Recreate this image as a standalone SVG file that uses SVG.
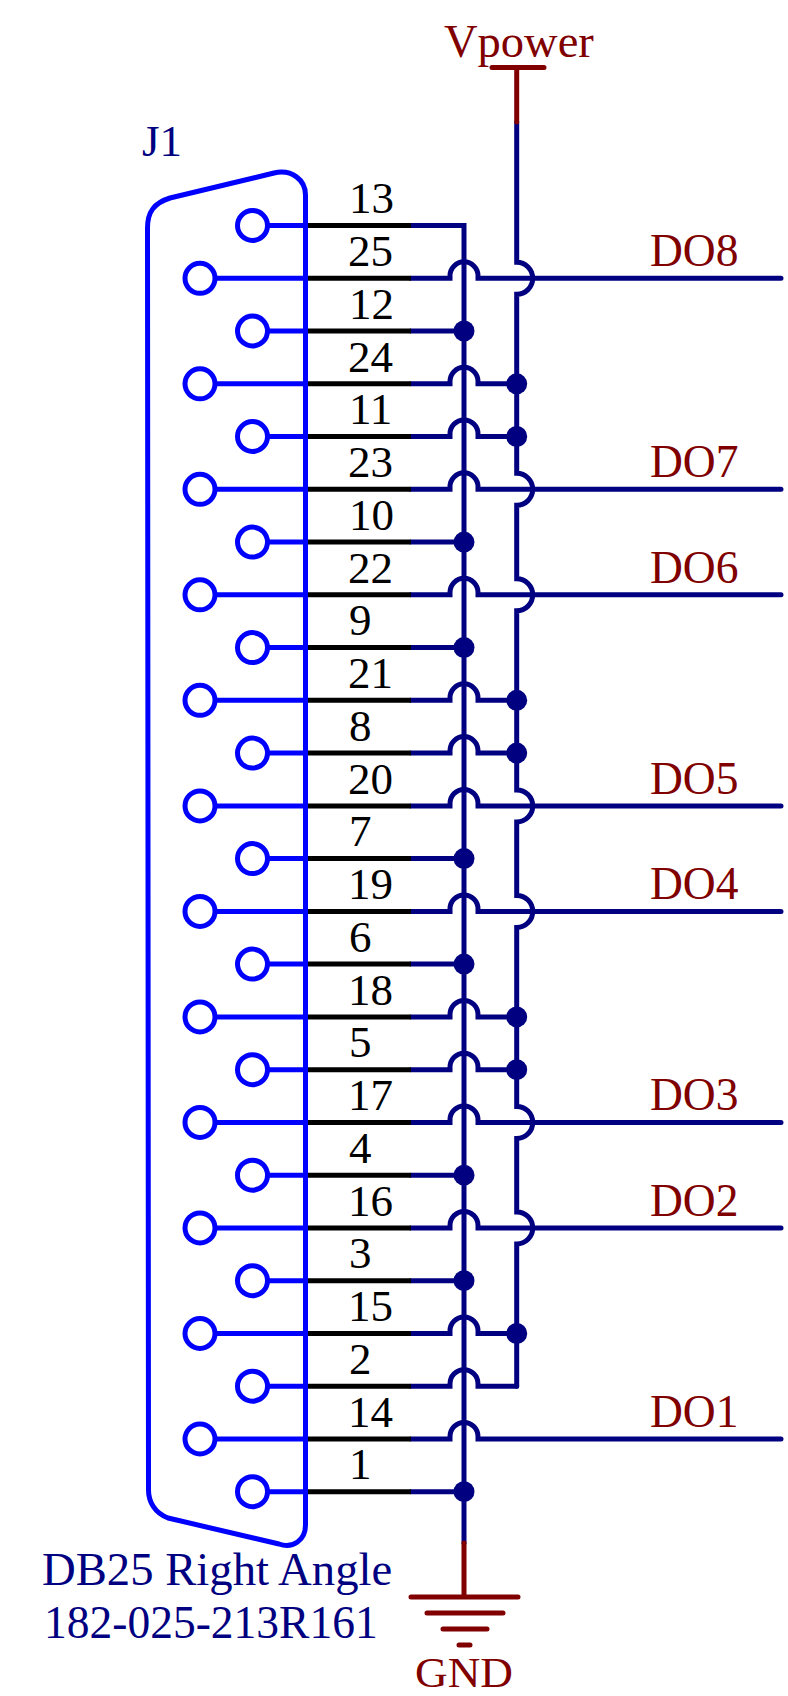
<svg xmlns="http://www.w3.org/2000/svg" width="788" height="1696" viewBox="0 0 788 1696">
<style>
text{font-family:"Liberation Serif","Times New Roman",serif;font-size:45px}
.n{fill:#000}.nv{fill:#000080}.r{fill:#800000}
.b,.k,.w,.p{fill:none;stroke-width:5}
.b{stroke:#0000ff}.k{stroke:#000}.w{stroke:#000080;stroke-linecap:round;stroke-linejoin:miter}
.p{stroke:#800000;stroke-linecap:round}
.h{fill:#fff;stroke:#0000ff;stroke-width:5}
.d{fill:#000080}
</style>
<rect width="788" height="1696" fill="#fff"/>
<g id="connectors">
<path class="w" d="M411 225.500H464V1543"/>
<path class="w" d="M516.700 122V262.300A16 16 0 0 1 516.700 294.300V473.300A16 16 0 0 1 516.700 505.300V578.800A16 16 0 0 1 516.700 610.800V789.900A16 16 0 0 1 516.700 821.900V895.400A16 16 0 0 1 516.700 927.400V1106.400A16 16 0 0 1 516.700 1138.400V1211.900A16 16 0 0 1 516.700 1243.900V1386.200"/>
<path class="w" d="M411 278.300H450V275.800A14 14 0 0 1 478 275.800V278.300H781"/>
<path class="w" d="M411 331H464"/>
<path class="w" d="M411 383.800H450V381.300A14 14 0 0 1 478 381.300V383.800H516.700"/>
<path class="w" d="M411 436.500H450V434A14 14 0 0 1 478 434V436.500H516.700"/>
<path class="w" d="M411 489.300H450V486.800A14 14 0 0 1 478 486.800V489.300H781"/>
<path class="w" d="M411 542.100H464"/>
<path class="w" d="M411 594.800H450V592.300A14 14 0 0 1 478 592.300V594.800H781"/>
<path class="w" d="M411 647.600H464"/>
<path class="w" d="M411 700.300H450V697.800A14 14 0 0 1 478 697.800V700.300H516.700"/>
<path class="w" d="M411 753.100H450V750.600A14 14 0 0 1 478 750.600V753.100H516.700"/>
<path class="w" d="M411 805.900H450V803.400A14 14 0 0 1 478 803.400V805.900H781"/>
<path class="w" d="M411 858.600H464"/>
<path class="w" d="M411 911.400H450V908.900A14 14 0 0 1 478 908.900V911.400H781"/>
<path class="w" d="M411 964.100H464"/>
<path class="w" d="M411 1016.900H450V1014.400A14 14 0 0 1 478 1014.400V1016.900H516.700"/>
<path class="w" d="M411 1069.700H450V1067.200A14 14 0 0 1 478 1067.200V1069.700H516.700"/>
<path class="w" d="M411 1122.400H450V1119.900A14 14 0 0 1 478 1119.900V1122.400H781"/>
<path class="w" d="M411 1175.200H464"/>
<path class="w" d="M411 1227.900H450V1225.400A14 14 0 0 1 478 1225.400V1227.900H781"/>
<path class="w" d="M411 1280.700H464"/>
<path class="w" d="M411 1333.500H450V1331A14 14 0 0 1 478 1331V1333.500H516.700"/>
<path class="w" d="M411 1386.200H450V1383.700A14 14 0 0 1 478 1383.700V1386.200H516.700"/>
<path class="w" d="M411 1439H450V1436.500A14 14 0 0 1 478 1436.500V1439H781"/>
<path class="w" d="M411 1491.700H464"/>
<g id="pin-stubs">
<path class="k" d="M305 225.500H411M305 278.300H411M305 331H411M305 383.800H411M305 436.500H411M305 489.300H411M305 542.100H411M305 594.800H411M305 647.600H411M305 700.300H411M305 753.100H411M305 805.900H411M305 858.600H411M305 911.400H411M305 964.100H411M305 1016.900H411M305 1069.700H411M305 1122.400H411M305 1175.200H411M305 1227.900H411M305 1280.700H411M305 1333.500H411M305 1386.200H411M305 1439H411M305 1491.700H411"/>
</g>
<g id="junctions" class="d">
<circle cx="464" cy="331" r="10.500"/>
<circle cx="464" cy="542.100" r="10.500"/>
<circle cx="464" cy="647.600" r="10.500"/>
<circle cx="464" cy="858.600" r="10.500"/>
<circle cx="464" cy="964.100" r="10.500"/>
<circle cx="464" cy="1175.200" r="10.500"/>
<circle cx="464" cy="1280.700" r="10.500"/>
<circle cx="464" cy="1491.700" r="10.500"/>
<circle cx="516.700" cy="383.800" r="10.500"/>
<circle cx="516.700" cy="436.500" r="10.500"/>
<circle cx="516.700" cy="700.300" r="10.500"/>
<circle cx="516.700" cy="753.100" r="10.500"/>
<circle cx="516.700" cy="1016.900" r="10.500"/>
<circle cx="516.700" cy="1069.700" r="10.500"/>
<circle cx="516.700" cy="1333.500" r="10.500"/>
</g>
</g>
<g id="J1">
<path class="b" stroke-linejoin="round" d="M147.500 228C147.500 212 154 203 170 198L274 173C292 169 305.500 180 305.500 195V1525C305.500 1540 293 1549 279 1544L168 1518C155 1513 148.500 1502 148.500 1490Z"/>
<path class="b" d="M267 225.500H305M215 278.300H305M267 331H305M215 383.800H305M267 436.500H305M215 489.300H305M267 542.100H305M215 594.800H305M267 647.600H305M215 700.300H305M267 753.100H305M215 805.900H305M267 858.600H305M215 911.400H305M267 964.100H305M215 1016.900H305M267 1069.700H305M215 1122.400H305M267 1175.200H305M215 1227.900H305M267 1280.700H305M215 1333.500H305M267 1386.200H305M215 1439H305M267 1491.700H305"/>
<g class="pins">
<circle class="h" cx="252.500" cy="225.500" r="15"/>
<circle class="h" cx="200" cy="278.300" r="15"/>
<circle class="h" cx="252.500" cy="331" r="15"/>
<circle class="h" cx="200" cy="383.800" r="15"/>
<circle class="h" cx="252.500" cy="436.500" r="15"/>
<circle class="h" cx="200" cy="489.300" r="15"/>
<circle class="h" cx="252.500" cy="542.100" r="15"/>
<circle class="h" cx="200" cy="594.800" r="15"/>
<circle class="h" cx="252.500" cy="647.600" r="15"/>
<circle class="h" cx="200" cy="700.300" r="15"/>
<circle class="h" cx="252.500" cy="753.100" r="15"/>
<circle class="h" cx="200" cy="805.900" r="15"/>
<circle class="h" cx="252.500" cy="858.600" r="15"/>
<circle class="h" cx="200" cy="911.400" r="15"/>
<circle class="h" cx="252.500" cy="964.100" r="15"/>
<circle class="h" cx="200" cy="1016.900" r="15"/>
<circle class="h" cx="252.500" cy="1069.700" r="15"/>
<circle class="h" cx="200" cy="1122.400" r="15"/>
<circle class="h" cx="252.500" cy="1175.200" r="15"/>
<circle class="h" cx="200" cy="1227.900" r="15"/>
<circle class="h" cx="252.500" cy="1280.700" r="15"/>
<circle class="h" cx="200" cy="1333.500" r="15"/>
<circle class="h" cx="252.500" cy="1386.200" r="15"/>
<circle class="h" cx="200" cy="1439" r="15"/>
<circle class="h" cx="252.500" cy="1491.700" r="15"/>
</g>
<text class="nv" x="142" y="156">J1</text>
<text class="nv" x="42" y="1585" style="font-size:46.700px">DB25 Right Angle</text>
<text class="nv" x="44" y="1638" style="font-size:45.500px">182-025-213R161</text>
<g class="n">
<text x="349" y="213">13</text>
<text x="348" y="266">25</text>
<text x="349" y="319">12</text>
<text x="348" y="372">24</text>
<text x="349" y="424">11</text>
<text x="348" y="477">23</text>
<text x="349" y="530">10</text>
<text x="348" y="583">22</text>
<text x="349" y="635">9</text>
<text x="348" y="688">21</text>
<text x="349" y="741">8</text>
<text x="348" y="794">20</text>
<text x="349" y="846">7</text>
<text x="348" y="899">19</text>
<text x="349" y="952">6</text>
<text x="348" y="1005">18</text>
<text x="349" y="1057">5</text>
<text x="348" y="1110">17</text>
<text x="349" y="1163">4</text>
<text x="348" y="1216">16</text>
<text x="349" y="1268">3</text>
<text x="348" y="1321">15</text>
<text x="349" y="1374">2</text>
<text x="348" y="1427">14</text>
<text x="349" y="1479">1</text>
</g>
</g>
<g id="Vpower">
<path class="p" d="M492 67.500H544M516.700 67.500V122"/>
<text class="r" x="444" y="57" style="font-size:46.500px">Vpower</text>
</g>
<g id="GND">
<path class="p" d="M464 1543V1597M411 1597H518M427 1613H503M443 1629H487M459 1645H470"/>
<text class="r" x="415" y="1687" style="font-size:43px" textLength="98" lengthAdjust="spacingAndGlyphs">GND</text>
</g>
<g id="nets" class="r">
<text x="650" y="266" style="font-size:45.500px">DO8</text>
<text x="650" y="477" style="font-size:45.500px">DO7</text>
<text x="650" y="583" style="font-size:45.500px">DO6</text>
<text x="650" y="794" style="font-size:45.500px">DO5</text>
<text x="650" y="899" style="font-size:45.500px">DO4</text>
<text x="650" y="1110" style="font-size:45.500px">DO3</text>
<text x="650" y="1216" style="font-size:45.500px">DO2</text>
<text x="650" y="1427" style="font-size:45.500px">DO1</text>
</g>
</svg>
